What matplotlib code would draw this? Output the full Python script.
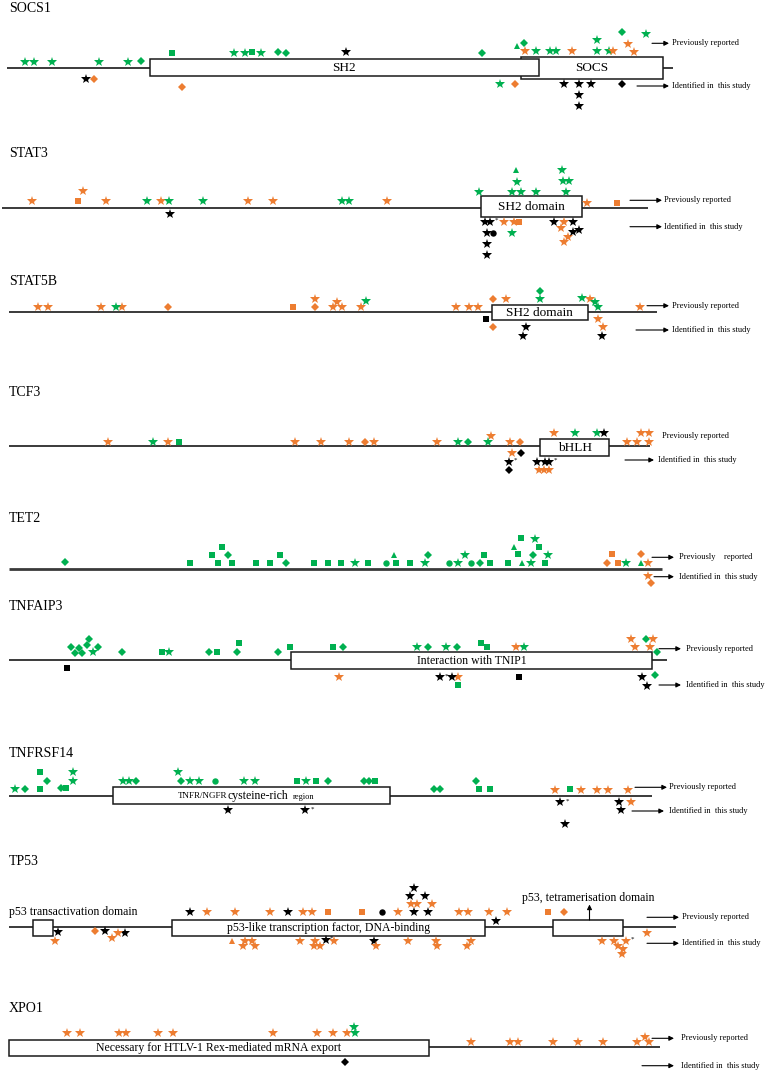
import matplotlib
matplotlib.use("Agg")
import matplotlib.pyplot as plt
from matplotlib.patches import Rectangle

plt.rcParams['font.family'] = ['Liberation Serif', 'DejaVu Serif']

# mutation position along the track, stack lift (+ above / - below),
# kind (M missense, F frameshift, N nonsense, I in-frame, S splice, A asterisk)
# and source (g, o = previously reported cohorts, k = this study)
socs1_pos = [24.5, 34.3, 51.5, 99, 128.4, 141, 171.6, 234.3, 245, 251.5, 260.8, 277.5, 285.8, 345.6, 481.9,
             517.2, 523.5, 524.5, 535.8, 550, 556.4, 572, 597, 597, 608.8, 612.7, 621.6, 627.5, 633.8, 646,
             85.8, 93.6, 182.4, 500, 514.7, 563.7, 579.4, 590.7, 621.6, 579.4, 579.4]
socs1_lift = [6.6, 6.6, 6.6, 6.6, 6.6, 7.3, 15, 15.6, 15.6, 16, 15.6, 16, 15, 16, 15,
              22.6, 25, 17.3, 17.3, 17.3, 17.3, 17.3, 28.3, 17.3, 17.3, 17.3, 36, 24, 16.6, 34.3,
              -11, -10.7, -18.4, -15.7, -15.7, -15.7, -15.7, -15.7, -15.7, -26.7, -37.7]
socs1_kind = "MMMMMFNMMNMFFMFIFMMMMMMMMMFMMM" + "MFFMFMMMFMM"
socs1_src = "gggggggggggggkgggogggogggogoog" + "koogokkkkkk"

stat3_pos = [31.9, 83.3, 78.4, 106.4, 147, 160.8, 168.6, 203.4, 248, 273, 341.7, 349, 387.3,
             478.7, 516, 517, 511.7, 521, 536, 562, 563, 569.3, 565.7, 586.7, 617.3,
             169.6, 485.3, 490, 496.7, 504, 514, 519.3, 487.3, 493, 512, 487.3, 487.3,
             554.3, 564, 572.7, 560.7, 572.7, 579.3, 567.7, 564]
stat3_lift = [6.7, 17, 6.7, 6.7, 6.7, 6.7, 6.7, 6.7, 6.7, 6.7, 6.7, 6.7, 6.7,
              15.4, 37.7, 26, 15.4, 15.4, 15.4, 37.7, 26.7, 26.7, 15.4, 5, 5,
              -6.6, -14, -14, -12.3, -14, -14, -14, -25, -25, -25, -36.3, -47.3,
              -14, -14, -14, -20.6, -24, -22.3, -29.6, -34]
stat3_kind = "MMNMMMMMMMMMMMIMMMMMMMMMN" + "MMMAMMNMSMMMMMMMMMMM"
stat3_src = "oooogoggooggo" + "gggggggggg" + "oo" + "kkkkoookkgkkkokokkoo"

stat5b_pos = [38.2, 47.5, 100.5, 116.2, 122, 168, 292.6, 314.7, 314.7, 333.3, 341.7, 336.8, 361.3,
              365.7, 456.4, 468.6, 477.5, 492.6, 505.9, 540.2, 540.2, 582.4, 589.7, 594.6, 598, 639.7,
              485.8, 492.6, 525.5, 522.5, 598, 603, 602]
stat5b_lift = [5, 5, 5, 5, 5, 5, 5, 5, 13.3, 5, 5, 10, 5,
               11.6, 5, 5, 5, 13.3, 13.3, 13.3, 21.6, 14, 13.3, 10, 5, 5,
               -6.7, -15, -15, -23.4, -6.7, -15, -23.4]
stat5b_kind = "MMMMMFNFMMMMMMMMMFMMFMMMMM" + "NFMMMMM"
stat5b_src = "ooogooooooooog" + "ooooogggoggo" + "kokkook"

tcf3_pos = [107.8, 153, 168, 179, 294.6, 320.6, 349, 365.2, 373.5, 437.3, 458.3, 468, 487.7,
            491.2, 509.8, 519.6, 554, 574.5, 597, 604.4, 626.5, 637.3, 648.5, 641.2, 648.5,
            512.3, 521, 508.8, 515.7, 508.8, 536.8, 545, 549, 555.4, 539.2, 544, 549]
tcf3_lift = [4.3, 4.3, 4.3, 4.3, 4.3, 4.3, 4.3, 4.3, 4.3, 4.3, 4.3, 4.3, 4.3,
             10, 4.3, 4.3, 12.7, 12.7, 12.7, 12.7, 4.3, 4.3, 4.3, 12.7, 12.7,
             -7.3, -6.7, -15.7, -14, -24, -15.7, -15.7, -15.7, -14, -24, -24, -24]
tcf3_kind = "MMMNMMMFMMMFMMMFMMMMMMMMM" + "MFMAFMMMAMMM"
tcf3_src = "ogogoooooogggoooo" + "ggk" + "ooooo" + "okkkkkkkkooo"

tet2_pos = [64.7, 190.2, 212.3, 222, 218.1, 228, 232.4, 255.9, 269.6, 279.9, 286.3, 314.2, 327.5,
            340.7, 354.9, 367.6, 385.8, 396, 394.1, 409.8, 424.5, 428, 449, 457.8, 465.2, 470.6,
            480.4, 483.8, 489.7, 507.8, 513.7, 520.6, 518.1, 521.6, 534.8, 538.7, 532.8, 530.9,
            547.5, 544.6, 611.8, 607.4, 617.6, 625.5, 641.2, 641.2, 647.5, 647.5, 651]
tet2_lift = [7, 6, 14.3, 22.6, 6, 14.3, 6, 6, 6, 14.3, 6, 6, 6,
             6, 6, 6, 6, 6, 14.3, 6, 6, 14.3, 6, 6, 14.3, 6,
             6, 14.3, 6, 6, 22.6, 31, 15, 6, 30.3, 22.6, 14.3, 6,
             14.3, 6, 15, 6, 6, 6, 15, 6, 6, -6.7, -14]
tet2_kind = "FNNNNFNNNNFNNNMNSNINMFSMMSFNNNINNIMNFMMNNFNMFIMMF"
tet2_src = "g" * 40 + "ooogogooo"

tnfaip3_pos = [71.1, 79.4, 74.5, 82.4, 86.8, 89.2, 98, 93.1, 122, 161.8, 168.6, 209.3, 216.7,
               239.2, 236.8, 277.5, 290.2, 333.3, 343.1, 416.7, 428, 445.6, 457.4, 481.4, 486.8,
               515.7, 523.5, 630.9, 635.3, 646, 653, 650, 656.9,
               67.2, 338.7, 439.7, 446, 452, 457.8, 457.8, 518.6, 642.2, 654.9, 647]
tnfaip3_lift = [13.3, 12.3, 7.3, 7.3, 15, 21, 13, 7.7, 7.7, 7.7, 7.7, 7.7, 7.7,
                16.7, 7.7, 7.7, 12.7, 12.7, 12.7, 13.3, 13.3, 13.3, 13.3, 16.7, 12.7,
                13.3, 13.3, 20.7, 12.7, 21.3, 21.3, 12.7, 7.7,
                -8.3, -17.3, -17.3, -16, -17.3, -17.3, -25.3, -16.7, -17.3, -15, -26]
tnfaip3_kind = "FFFFFFFMFNMFNNFFNNFMFMFNNMMMMFMMF" + "NMMAMMNNMFM"
tnfaip3_src = "g" * 25 + "ogoogoog" + "kokkkogkkgk"

tnfrsf14_pos = [14.7, 24.5, 40.2, 46.6, 40.2, 60.8, 65.7, 72.5, 72.5, 123, 129, 136.3, 177.5,
                181.4, 189.7, 198.5, 214.7, 243.6, 254.9, 296.6, 305.9, 316.2, 327.5, 363.7, 368.6,
                374.5, 433.8, 440.2, 475.5, 479.4, 489.7, 555, 570, 580.9, 596.6, 607.8, 627.5,
                228.4, 305.4, 312.3, 560.3, 567.2, 619.1, 631.4, 621.1, 565.2]
tnfrsf14_lift = [6.4, 6.4, 6.4, 15, 23.4, 7.4, 7.4, 15, 23.4, 14.7, 14.7, 14.7, 23.4,
                 14.7, 14.7, 14.7, 14.7, 14.7, 14.7, 14.7, 14.7, 14.7, 14.7, 14.7, 14.7,
                 14.7, 6.4, 6.4, 15, 6.4, 6.4, 5.7, 6.7, 5.7, 5.7, 5.7, 5.7,
                 -14.6, -14.6, -13, -6.3, -5, -6.3, -6.3, -14.6, -28.3]
tnfrsf14_kind = "MFNFNFNMMMMFMFMMSMMNMNFFFNFFFNNMNMMMM" + "MMAMAMMMM"
tnfrsf14_src = "g" * 31 + "ogoooo" + "kkkkkkokk"

tp53_pos = [190.2, 206.9, 235.3, 269.6, 288.2, 303, 311.8, 328.4, 361.8, 381.9, 398, 414.3, 428,
            410.7, 417.3, 432.3, 410, 425.3, 414.3, 459, 467.7, 488.7, 506.7, 496, 548.3, 564.3,
            57.8, 54.9, 94.6, 105.4, 111.8, 117.6, 124.5,
            231.9, 245.1, 251.5, 243.1, 254.9, 300, 315.2, 313.7, 319.6, 325.5, 331.9, 334.3,
            373.5, 376, 408.3, 436.3, 436.8, 470.6, 467.2,
            646.7, 602.3, 614.3, 626, 632.3, 618.3, 622.7, 621.7]
tp53_lift = [15, 15, 15, 15, 15, 15, 15, 15, 15, 15, 15, 15, 15,
             23.3, 23.3, 23.3, 31.6, 31.6, 39.6, 15, 15, 15, 15, 6.6, 15, 15,
             -4.4, -13.4, -4, -3.7, -11, -5.4, -5.4,
             -13.4, -13.4, -13.4, -18.7, -18.7, -13.4, -13.4, -18.7, -18.7, -12.7, -11, -13.4,
             -13.4, -18.7, -13.4, -13.4, -18.7, -13.4, -18.7,
             -5.4, -13.4, -13.4, -13.4, -11.7, -18.4, -22, -26.7]
tp53_kind = "MMMMMMMNNS" + "M" * 14 + "NF" + "MMFMMMM" + "IMMMMMMMMMAMMMMMMMM" + "MMMMAMMM"
tp53_src = ("koookoooo" + "ko" + "kk" + "ooo" + "kkk" + "oooo" + "k" + "oo" + "kookook"
            + "ooooooooo" + "kk" + "o" + "k" + "oooooo" + "ooookooo")

xpo1_pos = [67.2, 80.4, 118.6, 126, 158.3, 172.5, 273, 317.2, 333.3, 347, 355.4, 353.9,
            470.6, 509.8, 518.1, 552.5, 578.4, 602.5, 637.3, 649, 645, 344.6]
xpo1_lift = [13.4] * 11 + [19.4] + [5] * 8 + [10, -15.6]
xpo1_kind = "M" * 21 + "F"
xpo1_src = "o" * 10 + "gg" + "o" * 9 + "k"

PREV = "Previously reported"
IDENT = "Identified in  this study"

# layout: title y, track y, track span, domain boxes, legend arrows
genes = [
    dict(name="SOCS1", ty=9, y=68.3, span=(7.4, 672.5),
         boxes=[(520.6, 662.7, 56.7, 78.7, "SOCS", 9.5), (149.5, 539, 59.3, 76, "SH2", 9.5)],
         prev=(652, 669, 43.3, 671.6, PREV), ident=(637, 669, 86, 671.6, IDENT),
         data=(socs1_pos, socs1_lift, socs1_kind, socs1_src)),
    dict(name="STAT3", ty=153.3, y=207.7, span=(2, 648),
         boxes=[(481, 582, 196, 216.5, "SH2 domain", 9.5)],
         prev=(630, 662, 200.3, 664, PREV), ident=(630, 662, 226.7, 664, IDENT),
         data=(stat3_pos, stat3_lift, stat3_kind, stat3_src)),
    dict(name="STAT5B", ty=281.7, y=312.3, span=(8.8, 657),
         boxes=[(491.7, 588, 305, 320, "SH2 domain", 9.5)],
         prev=(647, 669, 305.7, 672.5, PREV), ident=(636, 669, 330, 672.5, IDENT),
         data=(stat5b_pos, stat5b_lift, stat5b_kind, stat5b_src)),
    dict(name="TCF3", ty=393, y=446, span=(8.8, 649.5),
         boxes=[(540, 609.3, 439, 456, "bHLH", 9.5)],
         prev=(None, None, 436, 662, PREV), ident=(625, 654, 460, 658, IDENT),
         data=(tcf3_pos, tcf3_lift, tcf3_kind, tcf3_src)),
    dict(name="TET2", ty=519, y=569.3, span=(8.8, 661.8), boxes=[], lw=2.0,
         prev=(652, 674, 557.3, 679, "Previously    reported"), ident=(654, 674, 576.7, 679, IDENT),
         data=(tet2_pos, tet2_lift, tet2_kind, tet2_src)),
    dict(name="TNFAIP3", ty=607, y=660, span=(8.8, 666.7),
         boxes=[(290.7, 652, 651.7, 669.3, "Interaction with TNIP1", 8.5)],
         prev=(659, 681, 648.7, 686, PREV), ident=(659, 681, 685, 686, IDENT),
         data=(tnfaip3_pos, tnfaip3_lift, tnfaip3_kind, tnfaip3_src)),
    dict(name="TNFRSF14", ty=753.3, y=795.7, span=(8.8, 652),
         boxes=[(112.7, 389.7, 787.3, 804, "", 9)],
         prev=(635, 667, 787.3, 669, PREV), ident=(632, 664, 811, 669, IDENT),
         data=(tnfrsf14_pos, tnfrsf14_lift, tnfrsf14_kind, tnfrsf14_src)),
    dict(name="TP53", ty=861.7, y=927.3, span=(8.8, 675.5),
         boxes=[(32.8, 52.5, 920, 935.7, "", 9),
                (171.6, 485.3, 920, 935.7, "p53-like transcription factor, DNA-binding", 8.5),
                (553, 622.5, 920, 935.7, "", 9)],
         prev=(647, 679, 917.3, 682, PREV), ident=(647, 679, 943.3, 682, IDENT),
         data=(tp53_pos, tp53_lift, tp53_kind, tp53_src)),
    dict(name="XPO1", ty=1008.3, y=1046.7, span=(429, 660),
         boxes=[(8.8, 429, 1040, 1055.7, "Necessary for HTLV-1 Rex-mediated mRNA export", 8.5)],
         prev=(652, 674, 1038.3, 681, PREV), ident=(642, 674, 1065.7, 681, IDENT),
         data=(xpo1_pos, xpo1_lift, xpo1_kind, xpo1_src)),
]

KIND = {'M': ('*', 7.0), 'F': ('D', 4.3), 'N': ('s', 4.0), 'I': ('^', 5.0), 'S': ('o', 4.6)}
SRC = {'g': '#00b050', 'o': '#ed7d31', 'k': '#000000'}


def arrow(ax, x0, x1, y0, y1):
    ax.annotate('', xy=(x1, y1), xytext=(x0, y0),
                arrowprops=dict(arrowstyle='-|>', color='k', lw=0.8,
                                mutation_scale=7, shrinkA=0, shrinkB=0))


fig = plt.figure(figsize=(7.68, 10.73), dpi=100)
ax = fig.add_axes([0, 0, 1, 1])
ax.set_xlim(0, 768)
ax.set_ylim(1073, 0)
ax.axis('off')

for g in genes:
    y = g['y']
    ax.text(9, g['ty'], g['name'], fontsize=10, ha='left', va='center')
    ax.plot(g['span'], [y, y], color='#3a3a3a', lw=g.get('lw', 1.4), zorder=1,
            solid_capstyle='butt')
    for x0, x1, b0, b1, label, fs in g['boxes']:
        ax.add_patch(Rectangle((x0, b0), x1 - x0, b1 - b0, facecolor='white',
                               edgecolor='#1a1a1a', lw=1.1, zorder=2))
        if label:
            ax.text((x0 + x1) / 2, (b0 + b1) / 2 + 0.5, label, fontsize=fs,
                    ha='center', va='center', zorder=3)
    px0, px1, py, tx, txt = g['prev']
    if px0 is not None:
        arrow(ax, px0, px1, py, py)
    ax.text(tx, py, txt, fontsize=6, ha='left', va='center')
    ix0, ix1, iy, tx, txt = g['ident']
    arrow(ax, ix0, ix1, iy, iy)
    ax.text(tx, iy, txt, fontsize=6, ha='left', va='center')

    pos, lift, kind, src = g['data']
    assert len(pos) == len(lift) == len(kind) == len(src), g['name']
    groups = {}
    for p, l, k, s in zip(pos, lift, kind, src):
        if k == 'A':
            ax.text(p, y - l, '*', fontsize=5, ha='center', va='center', zorder=4)
            continue
        groups.setdefault((k, s), ([], []))
        groups[(k, s)][0].append(p)
        groups[(k, s)][1].append(y - l)
    for (k, s), (xs, ys) in groups.items():
        m, ms = KIND[k]
        ax.plot(xs, ys, ls='none', marker=m, ms=ms, color=SRC[s], mew=0, zorder=4)

# TNFRSF14 domain label with mixed sizes
ax.text(177.5, 796.5, "TNFR/NGFR", fontsize=6.5, ha='left', va='center', zorder=3)
ax.text(227, 795.5, "cysteine-rich", fontsize=8.5, ha='left', va='center', zorder=3)
ax.text(293, 797, "region", fontsize=6, ha='left', va='center', zorder=3)

# TP53 domain captions
ax.text(8.8, 911.7, "p53 transactivation domain", fontsize=8.5, ha='left', va='center')
ax.text(588, 898.5, "p53, tetramerisation domain", fontsize=8.5, ha='center', va='center')
arrow(ax, 589.5, 589.5, 920, 904.5)

fig.savefig("out.png", dpi=100, facecolor='white')
